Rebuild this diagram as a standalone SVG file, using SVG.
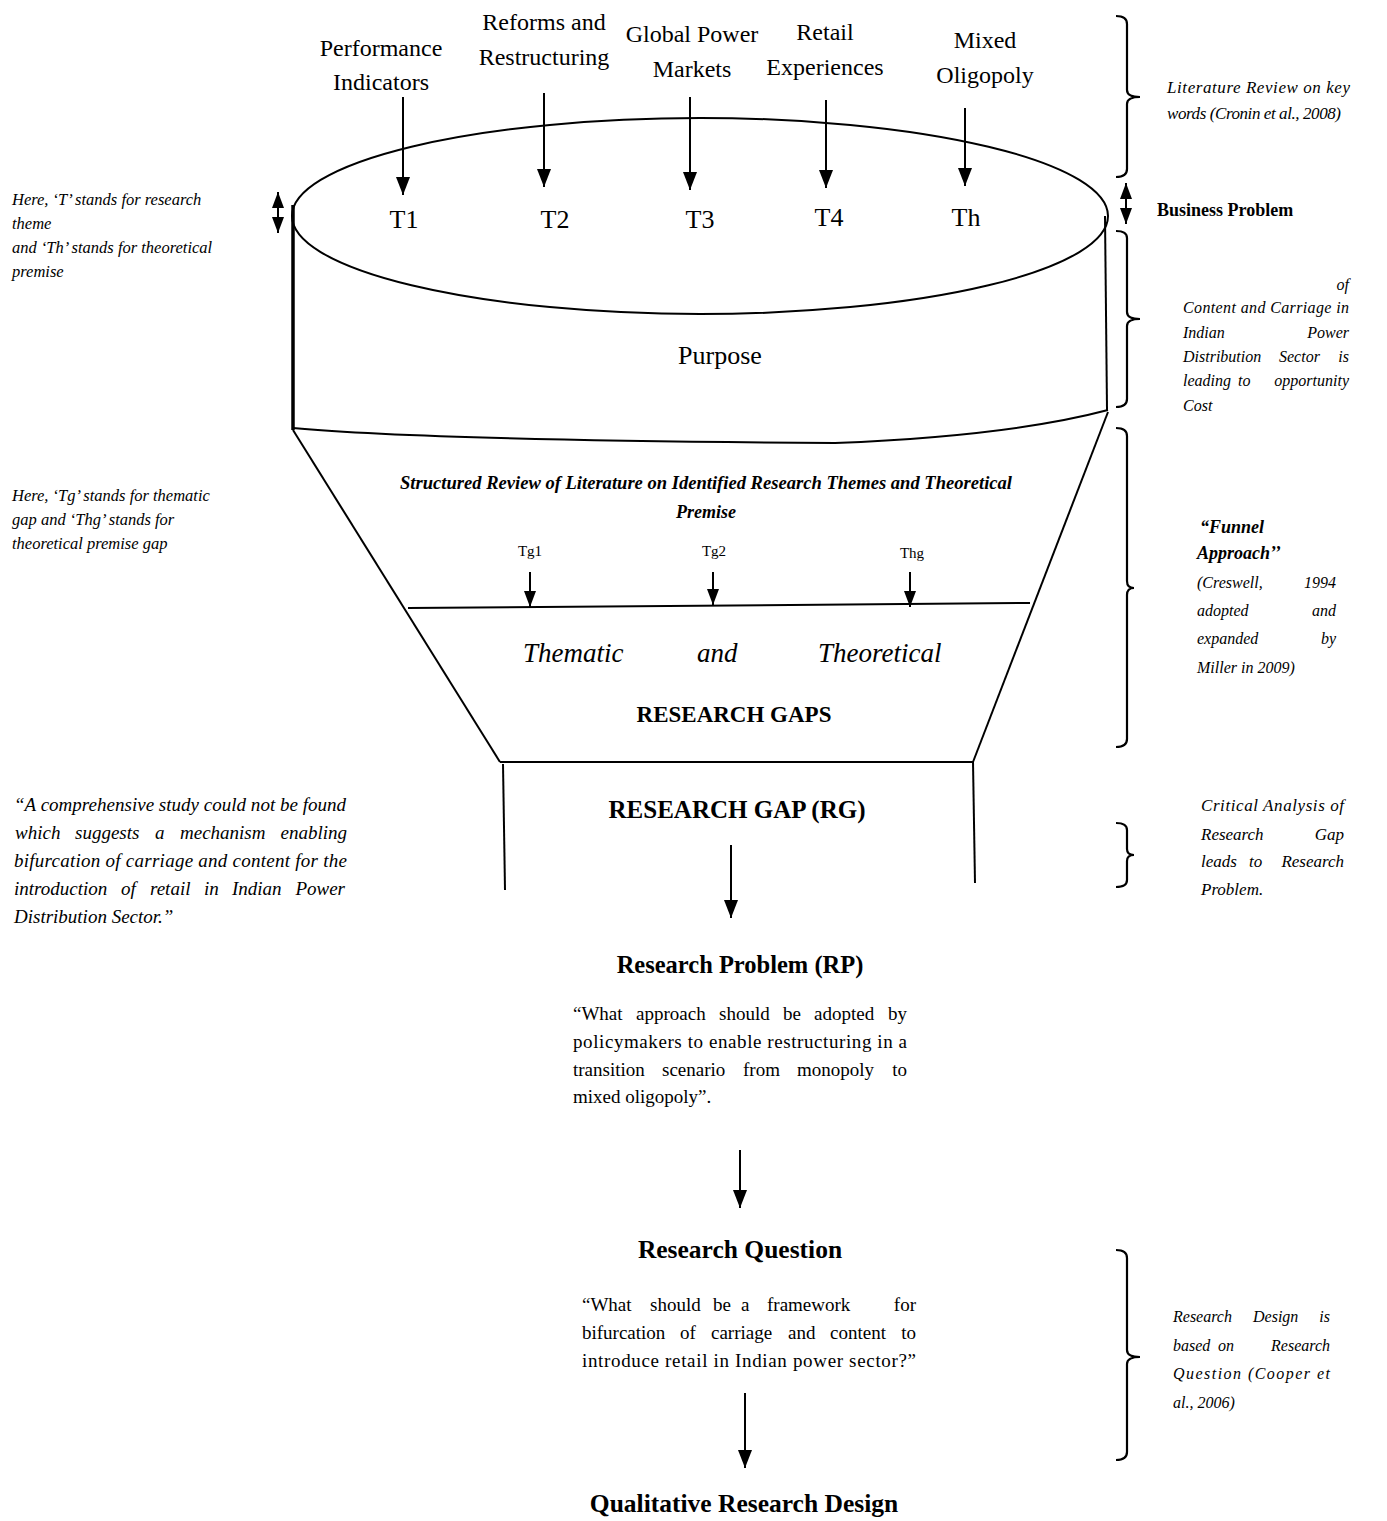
<svg xmlns="http://www.w3.org/2000/svg" width="1387" height="1521" viewBox="0 0 1387 1521">
<defs>
<marker id="ah" markerUnits="userSpaceOnUse" markerWidth="18" markerHeight="14" refX="18" refY="7" orient="auto-start-reverse">
<path d="M0,0 L18,7 L0,14 z" fill="#000"/>
</marker>
<marker id="ahs" markerUnits="userSpaceOnUse" markerWidth="16" markerHeight="12" refX="16" refY="6" orient="auto-start-reverse">
<path d="M0,0 L16,6 L0,12 z" fill="#000"/>
</marker>
</defs>
<style>
text{font-family:"Liberation Serif","Times New Roman",serif;fill:#000}
.lbl{font-size:24px;text-anchor:middle}
.t{font-size:26px;text-anchor:middle}
.note{font-size:16.5px;font-style:italic}
.rn{font-size:16px;font-style:italic}
.rn17{font-size:17px;font-style:italic}
.q{font-size:19px}
.qi{font-size:19px;font-style:italic}
.e{text-anchor:end}
.b{font-weight:bold;text-anchor:middle}
.ln{fill:none;stroke:#000;stroke-width:2}
.br{fill:none;stroke:#000;stroke-width:2.2}
.ar{stroke:#000;stroke-width:2;marker-end:url(#ah)}
.ar2{stroke:#000;stroke-width:2;marker-end:url(#ahs)}
.da{stroke:#000;stroke-width:2;marker-start:url(#ahs);marker-end:url(#ahs)}
</style>

<g id="funnel">
<ellipse cx="700" cy="216" rx="408" ry="98" class="ln"/>
<line x1="293" y1="205" x2="293" y2="430" stroke="#000" stroke-width="3.5"/>
<line x1="1105" y1="216" x2="1107" y2="410" stroke="#000" stroke-width="2"/>
<path d="M293,428 Q420,440 835,443 Q1010,436 1108,410" class="ln" stroke-width="2.5"/>
<line x1="293" y1="430" x2="500" y2="762" class="ln"/>
<line x1="1108" y1="412" x2="973" y2="762" class="ln"/>
<line x1="500" y1="762" x2="973" y2="762" class="ln" stroke-width="2.5"/>
<line x1="408" y1="608" x2="1030" y2="603" class="ln" stroke-width="2.5"/>
<line x1="503" y1="764" x2="505" y2="890" class="ln"/>
<line x1="973" y1="762" x2="975" y2="883" class="ln"/>
</g>

<g id="theme-labels">
<text class="lbl" x="381" y="56">Performance</text>
<text class="lbl" x="381" y="90">Indicators</text>
<text class="lbl" x="544" y="30">Reforms and</text>
<text class="lbl" x="544" y="65">Restructuring</text>
<text class="lbl" x="692" y="42">Global Power</text>
<text class="lbl" x="692" y="77">Markets</text>
<text class="lbl" x="825" y="40">Retail</text>
<text class="lbl" x="825" y="75">Experiences</text>
<text class="lbl" x="985" y="48">Mixed</text>
<text class="lbl" x="985" y="83">Oligopoly</text>
</g>

<g id="themes">
<text class="t" x="404" y="228">T1</text>
<text class="t" x="555" y="228">T2</text>
<text class="t" x="700" y="228">T3</text>
<text class="t" x="829" y="226">T4</text>
<text class="t" x="966" y="226">Th</text>
</g>

<g id="purpose"><text class="t" x="720" y="364">Purpose</text></g>

<g id="structured-review">
<text class="b" x="706" y="489" font-size="18" font-style="italic" textLength="612" lengthAdjust="spacingAndGlyphs">Structured Review of Literature on Identified Research Themes and Theoretical</text>
<text class="b" x="706" y="518" font-size="18" font-style="italic">Premise</text>
<text x="530" y="556" font-size="15" text-anchor="middle">Tg1</text>
<text x="714" y="556" font-size="15" text-anchor="middle">Tg2</text>
<text x="912" y="558" font-size="15" text-anchor="middle">Thg</text>
</g>

<g id="gaps">
<text x="523" y="662" font-size="27" font-style="italic">Thematic</text>
<text x="697" y="662" font-size="27" font-style="italic">and</text>
<text x="818" y="662" font-size="27" font-style="italic">Theoretical</text>
<text class="b" x="734" y="722" font-size="23">RESEARCH GAPS</text>
</g>

<g id="research-gap"><text class="b" x="737" y="818" font-size="25">RESEARCH GAP (RG)</text></g>

<g id="research-problem">
<text class="b" x="740" y="973" font-size="24.5">Research Problem (RP)</text>
<text class="q" y="1020"><tspan x="573">“What</tspan><tspan x="636">approach</tspan><tspan x="719">should</tspan><tspan x="783">be</tspan><tspan x="814">adopted</tspan></text>
<text class="q e" x="907" y="1020">by</text>
<text class="q" x="573" y="1048" textLength="334" lengthAdjust="spacing">policymakers to enable restructuring in a</text>
<text class="q" y="1076"><tspan x="573">transition</tspan><tspan x="662">scenario</tspan><tspan x="743">from</tspan><tspan x="797">monopoly</tspan></text>
<text class="q e" x="907" y="1076">to</text>
<text class="q" x="573" y="1103">mixed oligopoly”.</text>
</g>

<g id="research-question">
<text class="b" x="740" y="1258" font-size="25.5">Research Question</text>
<text class="q" y="1311"><tspan x="582">“What</tspan><tspan x="650">should</tspan><tspan x="713">be</tspan><tspan x="741">a</tspan><tspan x="767">framework</tspan></text>
<text class="q e" x="916" y="1311">for</text>
<text class="q" y="1339"><tspan x="582">bifurcation</tspan><tspan x="680">of</tspan><tspan x="711">carriage</tspan><tspan x="788">and</tspan><tspan x="830">content</tspan></text>
<text class="q e" x="916" y="1339">to</text>
<text class="q" x="582" y="1367" textLength="334" lengthAdjust="spacing">introduce retail in Indian power sector?”</text>
</g>

<g id="qualitative-design"><text class="b" x="744" y="1512" font-size="25.5">Qualitative Research Design</text></g>

<g id="note-themes">
<text class="note" x="12" y="205">Here, ‘T’ stands for research</text>
<text class="note" x="12" y="229">theme</text>
<text class="note" x="12" y="253">and ‘Th’ stands for theoretical</text>
<text class="note" x="12" y="277">premise</text>
</g>

<g id="note-gaps">
<text class="note" x="12" y="501">Here, ‘Tg’ stands for thematic</text>
<text class="note" x="12" y="525">gap and ‘Thg’ stands for</text>
<text class="note" x="12" y="549">theoretical premise gap</text>
</g>

<g id="note-quote">
<text class="qi" x="14" y="811" textLength="332" lengthAdjust="spacing">“A comprehensive study could not be found</text>
<text class="qi" y="839"><tspan x="15">which</tspan><tspan x="75">suggests</tspan><tspan x="155">a</tspan><tspan x="180">mechanism</tspan></text>
<text class="qi e" x="347" y="839">enabling</text>
<text class="qi" x="14" y="867" textLength="333" lengthAdjust="spacing">bifurcation of carriage and content for the</text>
<text class="qi" y="895"><tspan x="14">introduction</tspan><tspan x="121">of</tspan><tspan x="150">retail</tspan><tspan x="204">in</tspan><tspan x="232">Indian</tspan></text>
<text class="qi e" x="345" y="895">Power</text>
<text class="qi" x="14" y="923">Distribution Sector.”</text>
</g>

<g id="note-literature">
<text class="rn17" x="1167" y="93" textLength="183" lengthAdjust="spacing">Literature Review on key</text>
<text class="rn17" x="1167" y="119" textLength="174" lengthAdjust="spacing">words (Cronin et al., 2008)</text>
</g>

<g id="note-business">
<text x="1157" y="216" font-size="18" font-weight="bold">Business Problem</text>
</g>

<g id="note-content">
<text class="rn e" x="1349" y="290">of</text>
<text class="rn" x="1183" y="313" textLength="166" lengthAdjust="spacing">Content and Carriage in</text>
<text class="rn" x="1183" y="338">Indian</text>
<text class="rn e" x="1349" y="338">Power</text>
<text class="rn" x="1183" y="362">Distribution</text>
<text class="rn" x="1279" y="362">Sector</text>
<text class="rn e" x="1349" y="362">is</text>
<text class="rn" x="1183" y="386">leading</text>
<text class="rn" x="1238" y="386">to</text>
<text class="rn e" x="1349" y="386">opportunity</text>
<text class="rn" x="1183" y="411">Cost</text>
</g>

<g id="note-funnel">
<text x="1200" y="533" font-size="18" font-weight="bold" font-style="italic">“Funnel</text>
<text x="1197" y="559" font-size="18" font-weight="bold" font-style="italic">Approach’’</text>
<text class="rn" x="1197" y="588">(Creswell,</text>
<text class="rn e" x="1336" y="588">1994</text>
<text class="rn" x="1197" y="616">adopted</text>
<text class="rn e" x="1336" y="616">and</text>
<text class="rn" x="1197" y="644">expanded</text>
<text class="rn e" x="1336" y="644">by</text>
<text class="rn" x="1197" y="673">Miller in 2009)</text>
</g>

<g id="note-critical">
<text class="rn17" x="1201" y="811" textLength="143" lengthAdjust="spacing">Critical Analysis of</text>
<text class="rn17" x="1201" y="840">Research</text>
<text class="rn17 e" x="1344" y="840">Gap</text>
<text class="rn17" x="1201" y="867">leads</text>
<text class="rn17" x="1249" y="867">to</text>
<text class="rn17 e" x="1344" y="867">Research</text>
<text class="rn17" x="1201" y="895">Problem.</text>
</g>

<g id="note-design">
<text class="rn" x="1173" y="1322">Research</text>
<text class="rn" x="1253" y="1322">Design</text>
<text class="rn e" x="1330" y="1322">is</text>
<text class="rn" x="1173" y="1351">based</text>
<text class="rn" x="1218" y="1351">on</text>
<text class="rn e" x="1330" y="1351">Research</text>
<text class="rn" x="1173" y="1379" textLength="157" lengthAdjust="spacing">Question (Cooper et</text>
<text class="rn" x="1173" y="1408">al., 2006)</text>
</g>

<g id="brackets">
<path class="br" d="M1116,16 Q1127,16 1127,24 L1127,90 Q1127,97 1140,97 Q1127,97 1127,104 L1127,169 Q1127,177 1116,177"/>
<path class="br" d="M1116,231 Q1127,231 1127,238 L1127,312 Q1127,319 1140,319 Q1127,319 1127,326 L1127,399 Q1127,407 1116,407"/>
<path class="br" d="M1116,428 Q1127,428 1127,436 L1127,581 Q1127,588 1134,588 Q1127,588 1127,595 L1127,739 Q1127,747 1116,747"/>
<path class="br" d="M1116,823 Q1127,823 1127,830 L1127,849 Q1127,855 1134,855 Q1127,855 1127,861 L1127,880 Q1127,887 1116,887"/>
<path class="br" d="M1116,1250 Q1127,1250 1127,1258 L1127,1350 Q1127,1357 1140,1357 Q1127,1357 1127,1364 L1127,1452 Q1127,1460 1116,1460"/>
</g>

<g id="connectors">
<line class="ar" x1="403" y1="97" x2="403" y2="195"/>
<line class="ar" x1="544" y1="93" x2="544" y2="187"/>
<line class="ar" x1="690" y1="97" x2="690" y2="190"/>
<line class="ar" x1="826" y1="100" x2="826" y2="188"/>
<line class="ar" x1="965" y1="108" x2="965" y2="186"/>
<line class="ar2" x1="530" y1="572" x2="530" y2="607"/>
<line class="ar2" x1="713" y1="572" x2="713" y2="605"/>
<line class="ar2" x1="910" y1="572" x2="910" y2="607"/>
<line class="ar" x1="731" y1="845" x2="731" y2="918"/>
<line class="ar" x1="740" y1="1150" x2="740" y2="1208"/>
<line class="ar" x1="745" y1="1393" x2="745" y2="1468"/>
<line class="da" x1="278" y1="192" x2="278" y2="233"/>
<line class="da" x1="1126" y1="183" x2="1126" y2="224"/>
</g>
</svg>
